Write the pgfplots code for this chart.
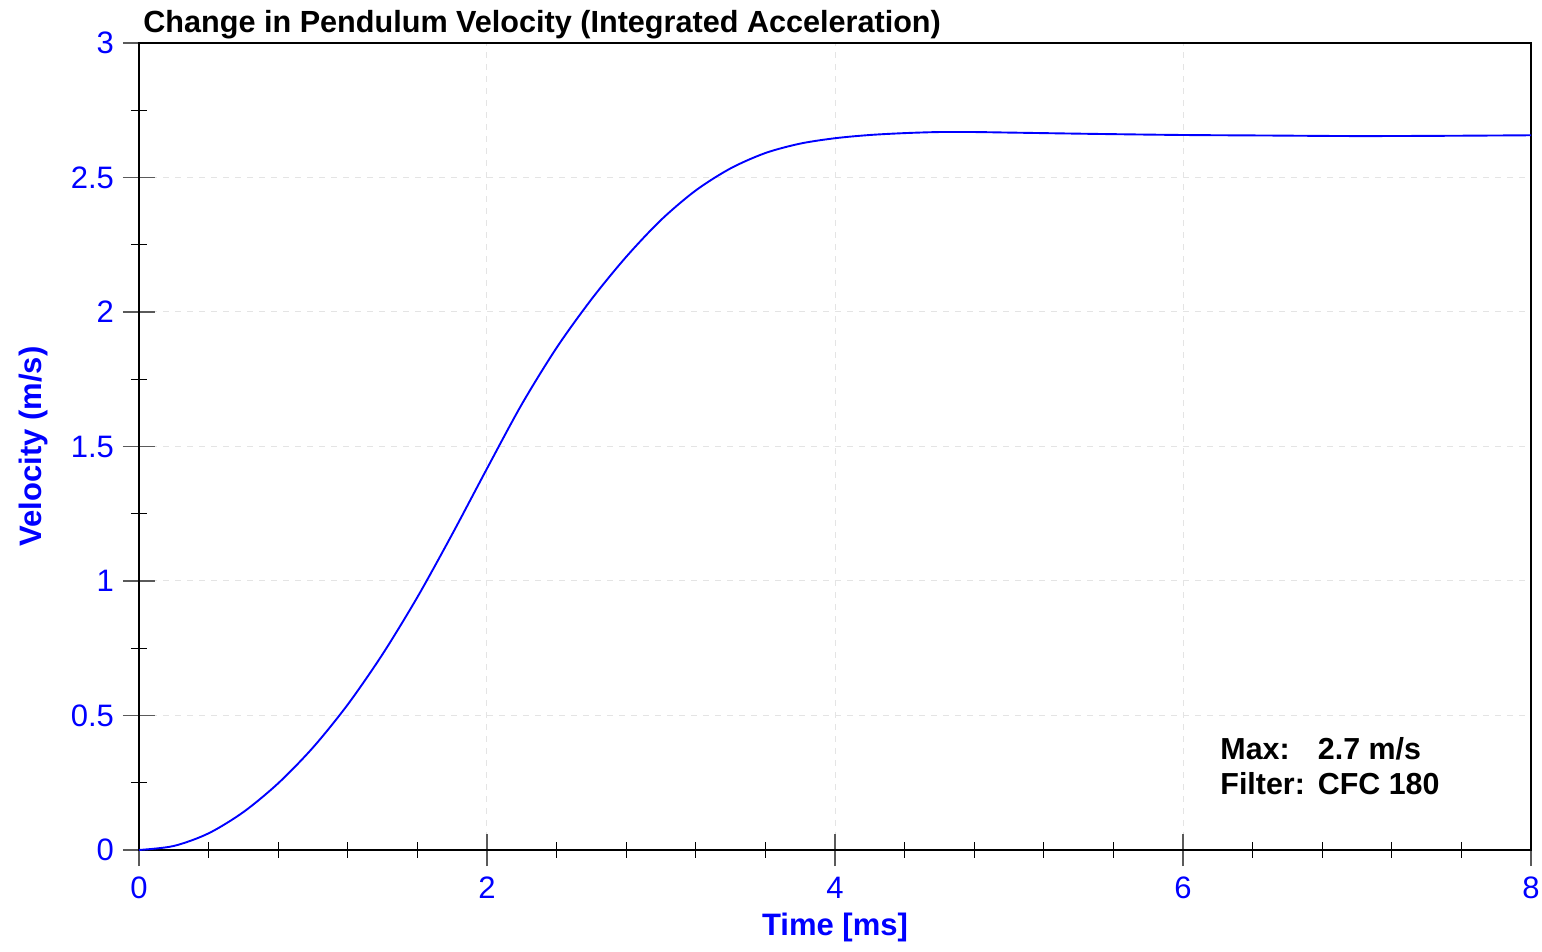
\documentclass[border=0pt]{standalone}
\usepackage{fontspec}
\setmainfont{Liberation Sans}
\usepackage{pgfplots}
\pgfplotsset{compat=1.18}
\definecolor{gridgray}{RGB}{228,228,228}
\definecolor{tickgray}{RGB}{90,90,90}
\begin{document}
\begin{tikzpicture}
\begin{axis}[
  name=ax,
  scale only axis,
  width=696pt, height=403.5pt,
  xmin=0, xmax=8, ymin=0, ymax=3,
  xtick={0,2,4,6,8},
  ytick={0,0.5,1,1.5,2,2.5,3},
  minor x tick num=4,
  minor y tick num=1,
  tick pos=left,
  tick align=center,
  major tick length=16pt,
  minor tick length=8pt,
  every major tick/.style={tickgray, line width=0.6pt},
  every minor tick/.style={black, line width=0.5pt},
  axis line style={black, line width=1.25pt},
  grid=major,
  major grid style={gridgray, dashed, line width=0.5pt},
  /pgf/number format/assume math mode=true,
  ticklabel style={font=\fontsize{15.5}{18}\selectfont, text=blue},
  xticklabel style={yshift=-2pt},
  yticklabel style={xshift=-1pt},
  xlabel={\textbf{Time [ms]}},
  ylabel={\textbf{Velocity (m/s)}},
  xlabel style={font=\fontsize{15.5}{18}\selectfont, text=blue, at={(axis description cs:0.5,0)}, anchor=base, yshift=-42.5pt},
  ylabel style={font=\fontsize{15.5}{18}\selectfont, text=blue, at={(axis description cs:-0.0761,0.5)}, anchor=center},
  clip=false,
]
\addplot[blue, line width=0.95pt, smooth] coordinates {
(0,0) (0.2,0.015) (0.4,0.062) (0.6,0.141) (0.8,0.248) (1.0,0.381) (1.2,0.541)
(1.4,0.728) (1.6,0.940) (1.8,1.174) (2.0,1.418) (2.2,1.657) (2.4,1.867)
(2.6,2.047) (2.8,2.205) (3.0,2.342) (3.2,2.452) (3.4,2.534) (3.6,2.591)
(3.8,2.626) (4.0,2.646) (4.2,2.658) (4.4,2.665) (4.6,2.669) (4.8,2.669)
(5.0,2.667) (5.5,2.662) (6.0,2.658) (6.5,2.656) (7.0,2.654) (7.5,2.655) (8.0,2.657)
};
\node[anchor=base west, inner sep=0pt, font=\fontsize{15.3}{17}\selectfont\bfseries] at ([xshift=2pt,yshift=5pt]rel axis cs:0,1) {Change in Pendulum Velocity (Integrated Acceleration)};
\node[anchor=base west, inner sep=0pt, font=\fontsize{15.2}{17.5}\selectfont\bfseries] at (axis cs:6.213,0.335) {\begin{tabular}[t]{@{}l@{\hspace{6.5pt}}l@{}}Max: & 2.7 m/s\\ Filter: & CFC 180\end{tabular}};
\end{axis}
\pgfresetboundingbox
\path[use as bounding box] ([shift={(-69.5pt,-51pt)}]ax.south west) rectangle ([shift={(5.5pt,21.5pt)}]ax.north east);
\end{tikzpicture}
\end{document}
